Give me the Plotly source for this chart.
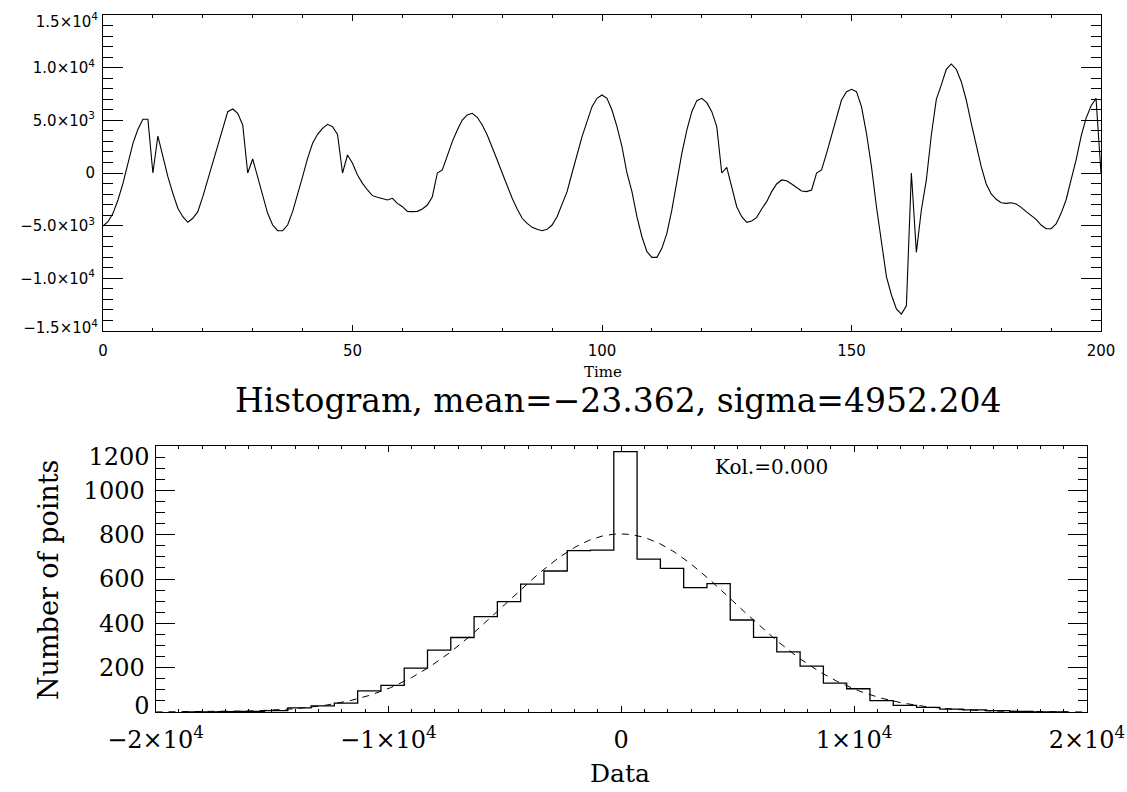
import numpy as np
import plotly.graph_objects as go

# ---------------- data: time series (top panel) ----------------
time = list(range(201))
signal = [
    -5030, -4620, -3830, -2560, -980, 920, 2820, 4150, 5100, 5100,
    0, 3510, 1550, -350, -1930, -3350, -4150, -4680, -4300, -3670,
    -2250, -660, 1080, 2660, 4240, 5820, 6080, 5670, 4560, 0,
    1330, -350, -2090, -3830, -4940, -5480, -5480, -4940, -3670, -2090,
    -350, 1390, 2820, 3670, 4240, 4620, 4400, 3670, 0, 1710,
    920, -190, -980, -1610, -2150, -2310, -2470, -2560, -2400, -2880,
    -3200, -3640, -3670, -3640, -3420, -3040, -2250, 0, 285, 1710,
    2980, 4080, 5030, 5510, 5670, 5290, 4560, 3610, 2500, 1230,
    0, -1300, -2400, -3420, -4300, -4780, -5160, -5350, -5480, -5350,
    -4940, -4150, -3040, -1770, 0, 1710, 3450, 4870, 6300, 7090,
    7410, 7090, 5980, 4400, 2500, 0, -1770, -4150, -6050, -7470,
    -8010, -8010, -7150, -5730, -3510, -820, 1870, 4080, 5820, 6870,
    7090, 6680, 5820, 4400, 0, 540, -1460, -3200, -4150, -4680,
    -4560, -4210, -3420, -2720, -1770, -1040, -660, -730, -1040, -1390,
    -1710, -1770, -1610, 0, 285, 1870, 3610, 5350, 6930, 7720,
    7940, 7720, 6300, 3770, 600, -3200, -6680, -9840, -11580, -12910,
    -13390, -12600, 0, -7530, -3510, -660, 3610, 6990, 8360, 9840,
    10350, 9840, 8670, 6930, 4720, 2660, 600, -1040, -1990, -2500,
    -2820, -2880, -2820, -2940, -3260, -3670, -4080, -4400, -4940, -5290,
    -5290, -4840, -3830, -2560, -660, 1230, 3450, 5190, 6360, 7090,
    0,
]

top_yticks = [-15000, -10000, -5000, 0, 5000, 10000, 15000]
top_yticklabels = ["−1.5×10<sup>4</sup>", "−1.0×10<sup>4</sup>", "−5.0×10<sup>3</sup>", "0",
                   "5.0×10<sup>3</sup>", "1.0×10<sup>4</sup>", "1.5×10<sup>4</sup>"]
top_xticks = [0, 50, 100, 150, 200]

# ---------------- data: histogram (bottom panel) ----------------
bin_centers = [-18820, -17820, -16820, -15820, -14820, -13820, -12820, -11820, -10820, -9820,
               -8820, -7820, -6820, -5820, -4820, -3820, -2820, -1820, -820, 180,
               1180, 2180, 3180, 4180, 5180, 6180, 7180, 8180, 9180, 10180,
               11180, 12180, 13180, 14180, 15180, 16180, 17180, 18180, 19180]
counts = [1, 1, 2, 3, 6, 19, 28, 40, 95, 120,
          198, 279, 336, 430, 498, 577, 636, 728, 730, 1175,
          690, 648, 561, 579, 415, 337, 271, 207, 130, 105,
          51, 30, 21, 13, 10, 6, 3, 1, 0]

hist_mean = -23.362
hist_sigma = 4952.204
bin_size = 1000.0
kol_text = "Kol.=0.000"

hist_xticks = [-20000, -10000, 0, 10000, 20000]
hist_xticklabels = ["−2×10<sup>4</sup>", "−1×10<sup>4</sup>", "0", "1×10<sup>4</sup>", "2×10<sup>4</sup>"]
hist_yticks = [0, 200, 400, 600, 800, 1000, 1200]
hist_yticklabels = ["0", "200", "400", "600", "800", "1000", "1200"]

# Gaussian model curve with the stated mean / sigma, normalised to the histogram
n_points = float(sum(counts))
gx = np.linspace(-20000, 20000, 401)
gy = n_points * bin_size / (hist_sigma * np.sqrt(2 * np.pi)) * np.exp(-0.5 * ((gx - hist_mean) / hist_sigma) ** 2)

# ---------------- figure ----------------
W, H = 1127, 792

def px_x(p):
    return p / W

def px_y(p):
    return 1 - p / H

fig = go.Figure()
fig.add_trace(go.Scatter(x=time, y=signal, mode="lines",
                         line=dict(color="black", width=1.1),
                         xaxis="x", yaxis="y", showlegend=False, hoverinfo="skip"))
fig.add_trace(go.Scatter(x=bin_centers, y=counts, mode="lines", line_shape="hvh",
                         line=dict(color="black", width=1.3),
                         xaxis="x2", yaxis="y2", showlegend=False, hoverinfo="skip"))
fig.add_trace(go.Scatter(x=gx, y=gy, mode="lines",
                         line=dict(color="black", width=1, dash="7px,6px"),
                         xaxis="x2", yaxis="y2", showlegend=False, hoverinfo="skip"))
# empty traces so the label-only overlay axes are drawn
fig.add_trace(go.Scatter(x=[], y=[], xaxis="x", yaxis="y3", showlegend=False, hoverinfo="skip"))
fig.add_trace(go.Scatter(x=[], y=[], xaxis="x2", yaxis="y4", showlegend=False, hoverinfo="skip"))

axis_common = dict(showline=True, linecolor="black", linewidth=1, mirror="ticks",
                   ticks="inside", tickcolor="black", tickwidth=1,
                   showgrid=False, zeroline=False, automargin=False)
label_only = dict(showline=False, ticks="", showgrid=False, zeroline=False,
                  automargin=False, side="left")

sans = "DejaVu Sans"
serif = "DejaVu Serif"
top_font = dict(family=sans, size=15, color="black")
hist_font = dict(family=serif, size=24, color="black")

# IDL nudges the end labels of a y axis inward; keep the middle labels on the main axis
top_mid_text = [""] + top_yticklabels[1:-1] + [""]
hist_mid_text = [""] + hist_yticklabels[1:-1] + [""]

fig.update_layout(
    width=W, height=H,
    margin=dict(l=0, r=0, t=0, b=0, autoexpand=False),
    paper_bgcolor="white", plot_bgcolor="white",
    xaxis=dict(domain=[px_x(103), px_x(1101)], range=[0, 200], anchor="y",
               tickvals=top_xticks, ticklen=6,
               minor=dict(dtick=10, ticklen=3, ticks="inside", tickcolor="black", showgrid=False),
               tickfont=top_font, ticklabelstandoff=6, **axis_common),
    yaxis=dict(domain=[px_y(331), px_y(15)], range=[-15000, 15000], anchor="x",
               tickvals=top_yticks, ticktext=top_mid_text, ticklen=20,
               minor=dict(dtick=1000, ticklen=10, ticks="inside", tickcolor="black", showgrid=False),
               tickfont=top_font, ticklabelstandoff=4, **axis_common),
    yaxis3=dict(overlaying="y", anchor="x", range=[-15000, 15000],
                tickvals=[-14700, 14400], ticktext=[top_yticklabels[0], top_yticklabels[-1]],
                tickfont=top_font, ticklabelstandoff=4, **label_only),
    xaxis2=dict(domain=[px_x(155.5), px_x(1087)], range=[-20000, 20000], anchor="y2",
                tickvals=hist_xticks, ticktext=hist_xticklabels, ticklen=6,
                minor=dict(dtick=1000, ticklen=3, ticks="inside", tickcolor="black", showgrid=False),
                tickfont=hist_font, ticklabelstandoff=6, **axis_common),
    yaxis2=dict(domain=[px_y(712), px_y(446)], range=[0, 1200], anchor="x2",
                tickvals=hist_yticks, ticktext=hist_mid_text, ticklen=19,
                minor=dict(dtick=50, ticklen=9, ticks="inside", tickcolor="black", showgrid=False),
                tickfont=hist_font, ticklabelstandoff=5, **axis_common),
    yaxis4=dict(overlaying="y2", anchor="x2", range=[0, 1200],
                tickvals=[30, 1150], ticktext=[hist_yticklabels[0], hist_yticklabels[-1]],
                tickfont=hist_font, ticklabelstandoff=5, **label_only),
    annotations=[
        dict(text="Time", x=px_x(603), y=px_y(372), xref="paper", yref="paper",
             xanchor="center", yanchor="middle",
             showarrow=False, font=dict(family=serif, size=15, color="black")),
        dict(text="Histogram, mean=−23.362, sigma=4952.204", x=px_x(618), y=px_y(400),
             xref="paper", yref="paper", xanchor="center", yanchor="middle", showarrow=False,
             font=dict(family=serif, size=33, color="black")),
        dict(text=kol_text, x=px_x(772), y=px_y(467), xref="paper", yref="paper",
             xanchor="center", yanchor="middle",
             showarrow=False, font=dict(family=serif, size=20, color="black")),
        dict(text="Data", x=px_x(620), y=px_y(773), xref="paper", yref="paper",
             xanchor="center", yanchor="middle",
             showarrow=False, font=dict(family=serif, size=25, color="black")),
        dict(text="Number of points", x=px_x(48), y=px_y(580), xref="paper", yref="paper",
             xanchor="center", yanchor="middle",
             showarrow=False, textangle=-90, font=dict(family=serif, size=27, color="black")),
    ],
)

fig.write_html("out.html")
